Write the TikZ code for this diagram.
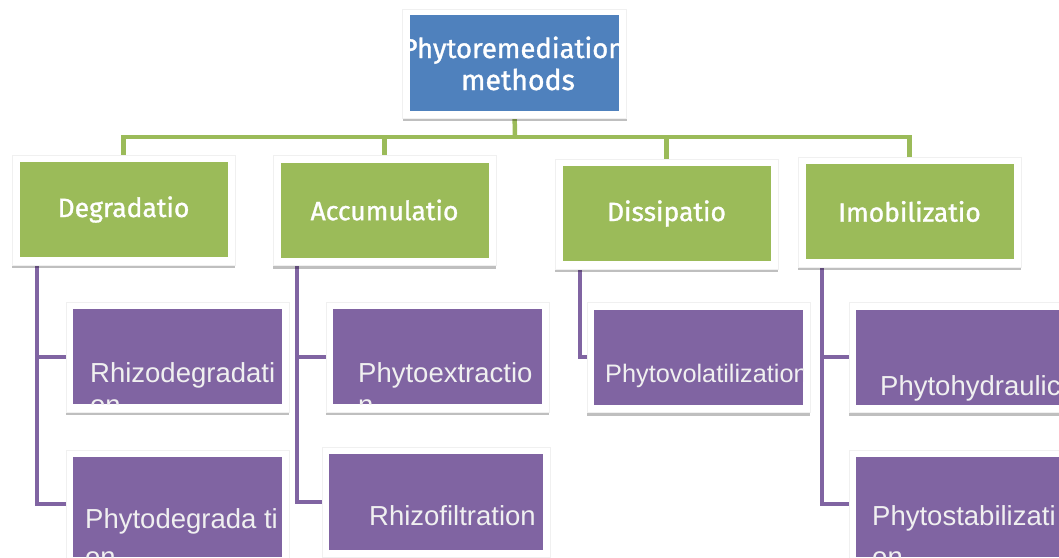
\documentclass[tikz,border=0pt]{standalone}
\usepackage{fontspec}
\setmainfont{Liberation Sans}
\newfontfamily\hdfont{Fira Sans}[FakeBold=1.2]
\usetikzlibrary{shadows}
\definecolor{cblue}{HTML}{4F81BD}
\definecolor{cgreen}{HTML}{9BBB59}
\definecolor{cpurple}{HTML}{8064A2}
\pgfdeclarelayer{bg}
\pgfsetlayers{bg,main}
\tikzset{
  frame/.style={fill=white, draw=black!6, minimum width=223pt, minimum height=110pt, inner sep=0pt,
    drop shadow={shadow xshift=0pt, shadow yshift=-3pt, fill=black, opacity=0.25}},
  tbox/.style={fill=cblue, minimum width=209pt, minimum height=96pt, inner sep=0pt},
  gbox/.style={fill=cgreen, minimum width=208pt, minimum height=95pt, inner sep=0pt, text=white,
    font=\hdfont\fontsize{26.5}{32}\selectfont},
  pbox/.style={fill=cpurple, minimum width=209pt, minimum height=95pt, inner sep=0pt},
  ptext/.style={anchor=base west, inner sep=0pt, text=white!94!black, font=\fontsize{27.5}{32}\selectfont},
  ttext/.style={anchor=base, inner sep=0pt, text=white, font=\hdfont\fontsize{28.5}{34}\selectfont},
  gline/.style={draw=cgreen, line width=4.5pt},
  pline/.style={draw=cpurple, line width=4pt},
}
\begin{document}
\begin{tikzpicture}[x=1pt, y=-1pt]
\useasboundingbox (0,0) rectangle (1059,557);

% top
\node[frame, minimum width=224pt, minimum height=109pt] (topf) at (514.5,63.5) {};
\node[tbox] (top) at (514.5,63) {};
\begin{scope}
  \clip (top.south west) rectangle (top.north east);
  \node[ttext, font=\hdfont\fontsize{27.5}{34}\selectfont] (topt1) at (513,58) {Phytoremediation};
  \node[ttext] (topt2) at (518,90) {methods};
\end{scope}

% green level
\node[frame] (degf) at (123.5,210) {};
\node[gbox] (deg) at (123.5,209.5) {Degradatio};
\node[frame] (accf) at (384.5,210.5) {};
\node[gbox] (acc) at (384.5,210) {Accumulatio};
\node[frame] (disf) at (666.5,214) {};
\node[gbox] (dis) at (666.5,213.5) {Dissipatio};
\node[frame] (imof) at (909.5,212) {};
\node[gbox] (imo) at (909.5,211.5) {Imobilizatio};

% purple level
\node[frame] (rdf) at (177.5,357) {};
\node[pbox] (rd) at (177.5,356.5) {};
\begin{scope}
  \clip (rd.south west) rectangle (rd.north east);
  \node[ptext] (rdt1) at (90,382) {Rhizodegradati};
  \node[ptext] (rdt2) at (90,414) {on};
\end{scope}

\node[frame, minimum height=113pt] (pdf) at (177.5,507) {};
\node[pbox, minimum height=100pt] (pd) at (177.5,507) {};
\begin{scope}
  \clip (pd.south west) rectangle (pd.north east);
  \node[ptext] (pdt1) at (85,528) {Phytodegrada ti};
  \node[ptext] (pdt2) at (85,566) {on};
\end{scope}

\node[frame] (pef) at (437.5,357) {};
\node[pbox] (pe) at (437.5,356.5) {};
\begin{scope}
  \clip (pe.south west) rectangle (pe.north east);
  \node[ptext] (pet1) at (358,382) {Phytoextractio};
  \node[ptext] (pet2) at (358,414) {n};
\end{scope}

\node[frame, minimum width=228pt] (rff) at (436,502.5) {};
\node[pbox, minimum width=214pt, minimum height=96pt] (rf) at (436,502) {};
\begin{scope}
  \clip (rf.south west) rectangle (rf.north east);
  \node[ptext] (rft1) at (369,525) {Rhizofiltration};
\end{scope}

\node[frame] (pvf) at (698.5,357.5) {};
\node[pbox] (pv) at (698.5,357) {};
\begin{scope}
  \clip (pv.south west) rectangle (pv.north east);
  \node[ptext, font=\fontsize{25.3}{30}\selectfont] (pvt1) at (605,382) {Phytovolatilization};
\end{scope}

\node[frame] (phf) at (960.5,357.5) {};
\node[pbox] (ph) at (960.5,357) {};
\begin{scope}
  \clip (ph.south west) rectangle (ph.north east);
  \node[ptext] (pht1) at (880,395) {Phytohydraulic};
\end{scope}

\node[frame, minimum height=113pt] (psf) at (960.5,507) {};
\node[pbox, minimum height=100pt] (ps) at (960.5,507) {};
\begin{scope}
  \clip (ps.south west) rectangle (ps.north east);
  \node[ptext] (pst1) at (872,525) {Phytostabilizati};
  \node[ptext] (pst2) at (872,566) {on};
\end{scope}

% connectors
\begin{pgfonlayer}{bg}
  \coordinate (bus) at (515,137);
  \draw[gline] (top.south) -- (bus);
  \draw[gline] (bus) -| (deg.north);
  \draw[gline] (bus) -| (acc.north);
  \draw[gline] (bus) -| (dis.north);
  \draw[gline] (bus) -| (imo.north);
  \coordinate (degv) at ([xshift=18pt]deg.south west);
  \coordinate (accv) at ([xshift=17pt]acc.south west);
  \coordinate (disv) at ([xshift=18pt]dis.south west);
  \coordinate (imov) at ([xshift=17pt]imo.south west);
  \draw[pline] (degv) |- (rd.west);
  \draw[pline] (degv) |- ([yshift=3pt]pd.west);
  \draw[pline] (accv) |- (pe.west);
  \draw[pline] (accv) |- (rf.west);
  \draw[pline] (disv) |- (pv.west);
  \draw[pline] (imov) |- (ph.west);
  \draw[pline] (imov) |- ([yshift=3pt]ps.west);
\end{pgfonlayer}
\end{tikzpicture}
\end{document}
